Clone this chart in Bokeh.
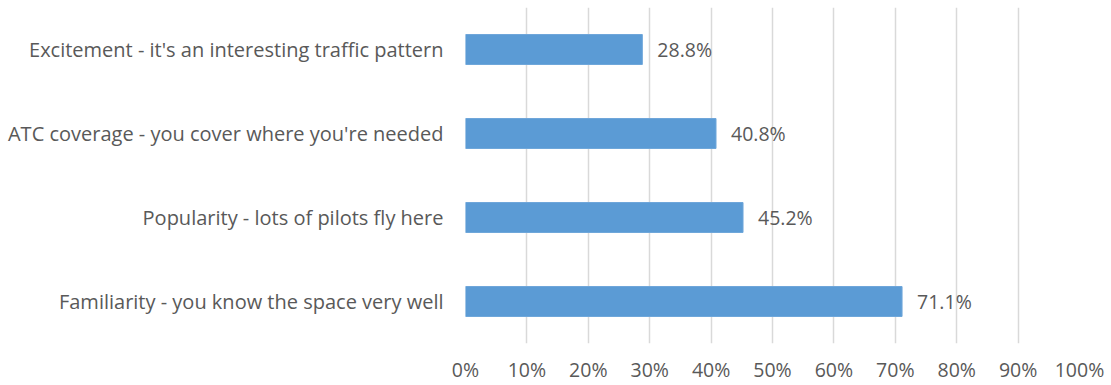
from bokeh.plotting import figure
from bokeh.models import ColumnDataSource, FactorRange, Range1d, FixedTicker, NumeralTickFormatter
from bokeh.core.properties import value
from bokeh.embed import file_html
from bokeh.resources import INLINE

categories = [
    "Familiarity - you know the space very well",
    "Popularity - lots of pilots fly here",
    "ATC coverage - you cover where you're needed",
    "Excitement - it's an interesting traffic pattern",
]
values = [0.711, 0.452, 0.408, 0.288]
labels = ["71.1%", "45.2%", "40.8%", "28.8%"]
ticks = [0.0, 0.1, 0.2, 0.3, 0.4, 0.5, 0.6, 0.7, 0.8, 0.9, 1.0]

FONT = "Open Sans"
TXT = "#595959"

src = ColumnDataSource(dict(cat=categories, val=values, lab=labels))

p = figure(
    width=1111, height=385,
    y_range=FactorRange(factors=categories),
    x_range=Range1d(0, 1),
    output_backend="svg", toolbar_location=None,
    min_border_left=465, min_border_right=32,
    min_border_top=7, min_border_bottom=42,
)
p.outline_line_color = None
p.background_fill_color = "white"
p.border_fill_color = "white"

p.hbar(y="cat", right="val", left=0, height=0.357, source=src,
       fill_color="#5B9BD5", line_color="#6FA6DA", line_width=1)

p.text(x="val", y="cat", text="lab", source=src,
       x_offset=15, text_align="left", text_baseline="middle",
       text_font=value(FONT), text_font_size="19.5px", text_color=TXT)

p.xaxis.ticker = FixedTicker(ticks=ticks)
p.xaxis.formatter = NumeralTickFormatter(format="0%")
p.xaxis.axis_line_color = None
p.xaxis.major_tick_line_color = None
p.xaxis.minor_tick_line_color = None
p.xaxis.major_tick_out = 0
p.xaxis.major_tick_in = 0
p.xaxis.major_label_standoff = 12
p.xaxis.major_label_text_font = FONT
p.xaxis.major_label_text_font_size = "19.5px"
p.xaxis.major_label_text_color = TXT

p.yaxis.axis_line_color = None
p.yaxis.major_tick_line_color = None
p.yaxis.minor_tick_line_color = None
p.yaxis.major_tick_out = 0
p.yaxis.major_tick_in = 0
p.yaxis.major_label_standoff = 22
p.yaxis.major_label_text_font = FONT
p.yaxis.major_label_text_font_size = "20px"
p.yaxis.major_label_text_color = TXT

p.ygrid.grid_line_color = None
p.xgrid.ticker = FixedTicker(ticks=ticks)
p.xgrid.grid_line_color = "#D9D9D9"
p.xgrid.grid_line_width = 1.5

open("out.html", "w").write(file_html(p, INLINE))
